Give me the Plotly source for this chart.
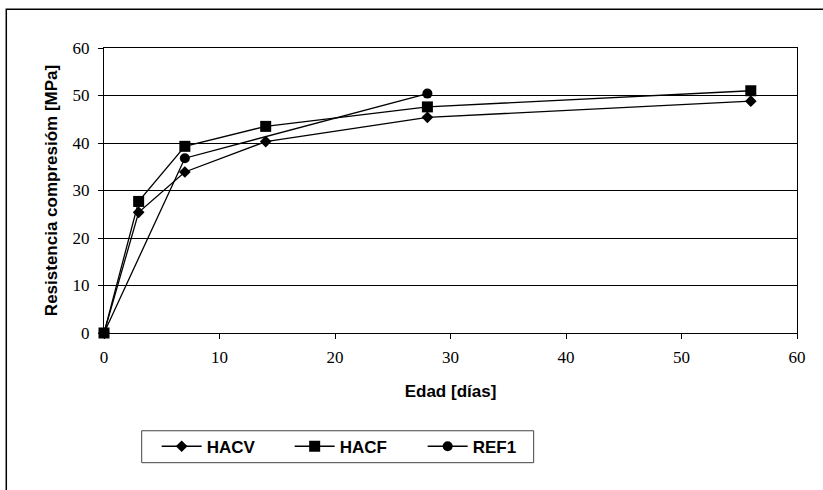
import plotly.graph_objects as go

# Compressive strength vs. age
edad_hacv = [0, 3, 7, 14, 28, 56]
hacv = [0, 25.4, 33.9, 40.3, 45.4, 48.8]

edad_hacf = [0, 3, 7, 14, 28, 56]
hacf = [0, 27.7, 39.3, 43.5, 47.6, 51.0]

edad_ref1 = [0, 7, 28]
ref1 = [0, 36.8, 50.4]

series = [
    ("HACV", edad_hacv, hacv, "diamond", 9),
    ("HACF", edad_hacf, hacf, "square", 11),
    ("REF1", edad_ref1, ref1, "circle", 10),
]

fig = go.Figure()
for name, x, y, sym, size in series:
    fig.add_trace(go.Scatter(
        x=x, y=y, name=name, mode="lines+markers", cliponaxis=False,
        line=dict(color="black", width=1.3),
        marker=dict(symbol=sym, size=size, color="black"),
    ))

serif = "Liberation Serif, Times New Roman, serif"
sans = "Liberation Sans, Arial, sans-serif"

fig.update_layout(
    width=823, height=490,
    margin=dict(l=104, r=25.5, t=48, b=157),
    paper_bgcolor="white", plot_bgcolor="white",
    showlegend=True,
    legend=dict(
        orientation="h", x=0.076, y=-0.399, xanchor="left", yanchor="middle",
        bgcolor="rgba(0,0,0,0)", borderwidth=0,
        font=dict(family=sans, size=17, color="black", weight="bold"),
        itemwidth=40, tracegroupgap=0,
        entrywidthmode="pixels", entrywidth=78,
    ),
    xaxis=dict(
        range=[0, 60], dtick=10, showgrid=False, zeroline=False,
        ticks="outside", ticklen=5, tickcolor="black", ticklabelstandoff=4,
        showline=True, linecolor="black", linewidth=1, mirror=True,
        tickfont=dict(family=serif, size=17, color="black"),
        title=dict(text="<b>Edad [días]</b>", font=dict(family=sans, size=17, color="black"), standoff=18),
    ),
    yaxis=dict(
        range=[0, 60], dtick=10, showgrid=True, gridcolor="black", gridwidth=1,
        zeroline=False,
        ticks="outside", ticklen=5, tickcolor="black", ticklabelstandoff=5,
        showline=True, linecolor="black", linewidth=1, mirror=True,
        tickfont=dict(family=serif, size=17, color="black"),
        title=dict(text="<b>Resistencia compresióm [MPa]</b>", font=dict(family=sans, size=17, color="black"), standoff=10),
    ),
    shapes=[
        # outer chart frame
        dict(type="rect", xref="paper", yref="paper",
             x0=-0.141, x1=1.2, y0=-1.0, y1=1.136,
             line=dict(color="black", width=1.5), layer="below"),
        # legend frame
        dict(type="rect", xref="paper", yref="paper",
             x0=0.0544, x1=0.620, y0=-0.455, y1=-0.343,
             line=dict(color="#444", width=1), layer="below"),
    ],
)

fig.write_html("out.html")
